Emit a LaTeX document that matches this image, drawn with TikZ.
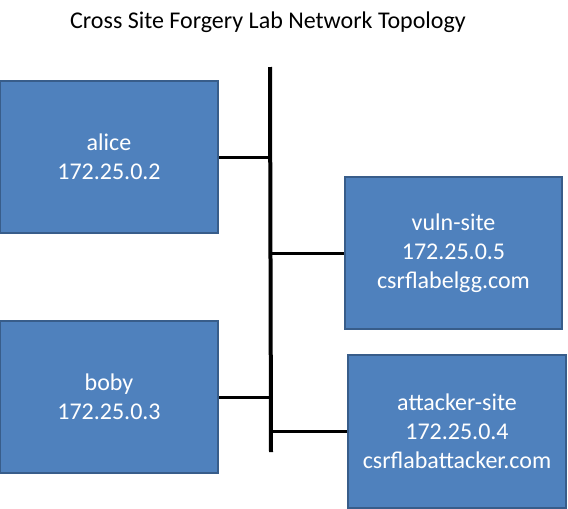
\documentclass[tikz,border=0pt]{standalone}
\usepackage{fontspec}
\setmainfont{Carlito}
\begin{document}
\begin{tikzpicture}[x=1pt,y=-1pt,
  hostbox/.style={draw=boxedge,line width=2pt,fill=boxfill,text=white,align=center,
    font=\fontsize{24}{29}\selectfont,inner sep=0pt},
  wire/.style={line width=3pt,black}]
\definecolor{boxfill}{HTML}{4F81BD}
\definecolor{boxedge}{HTML}{385D8A}
\useasboundingbox (0,0) rectangle (568,509);
\node[font=\fontsize{24}{28}\selectfont] (title) at (268,22) {Cross Site Forgery Lab Network Topology};
\node[hostbox,minimum width=218pt,minimum height=152pt] (alice) at (109,157) {alice\\172.25.0.2};
\node[hostbox,minimum width=218pt,minimum height=152pt] (boby) at (109,397) {boby\\172.25.0.3};
\node[hostbox,minimum width=217pt,minimum height=152pt] (vuln) at (453.5,253) {vuln-site\\172.25.0.5\\csrflabelgg.com};
\node[hostbox,minimum width=218pt,minimum height=153pt] (attacker) at (457,431.5) {attacker-site\\172.25.0.4\\csrflabattacker.com};
\coordinate (bustop) at (270,67);
\coordinate (busbot) at (271,452);
\draw[line width=4pt] (bustop) -- (busbot);
\draw[wire] (alice.east) -- (alice.east -| bustop);
\draw[wire] (boby.east) -- (boby.east -| bustop);
\draw[wire] (vuln.west) -- (vuln.west -| bustop);
\draw[wire] (attacker.west) -- (attacker.west -| bustop);
\end{tikzpicture}
\end{document}
